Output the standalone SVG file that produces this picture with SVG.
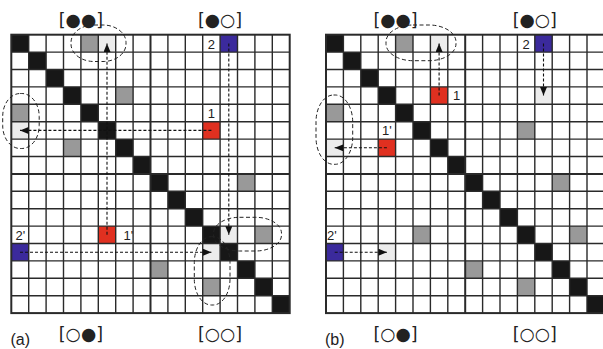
<svg xmlns="http://www.w3.org/2000/svg" xmlns:xlink="http://www.w3.org/1999/xlink" width="603" height="349" viewBox="0 0 603 349">
<style>
.k{fill:#171717}
.g{fill:#999999}
.l{fill:#ececec}
.r{fill:#e03020}
.b{fill:#3b2a9c}
.grid{fill:none;stroke:#2a2a2a;stroke-width:1.4}
.thick{fill:none;stroke:#2a2a2a;stroke-width:2}
.arr{fill:none;stroke:#111;stroke-width:1.1;stroke-dasharray:3 2;marker-end:url(#ah)}
.hl{fill:none;stroke:#222;stroke-width:1;stroke-dasharray:4 2.5}
.lab{font-family:"DejaVu Sans",sans-serif;font-size:17.5px;fill:#222;text-anchor:middle}
.num{font-family:"Liberation Sans",Arial,sans-serif;font-size:13px;fill:#222}
.cap{font-family:"Liberation Sans",Arial,sans-serif;font-size:16px;fill:#222}
</style>
<defs>
<marker id="ah" markerUnits="userSpaceOnUse" markerWidth="9" markerHeight="8" refX="8.5" refY="3.5" orient="auto">
<path d="M0,0 L8.5,3.5 L0,7 z" fill="#111"/>
</marker>
<g id="diag">
<rect class="k" x="0" y="0" width="17.4" height="17.4"/>
<rect class="k" x="17.4" y="17.4" width="17.4" height="17.4"/>
<rect class="k" x="34.8" y="34.8" width="17.4" height="17.4"/>
<rect class="k" x="52.2" y="52.2" width="17.4" height="17.4"/>
<rect class="k" x="69.6" y="69.6" width="17.4" height="17.4"/>
<rect class="k" x="87" y="87" width="17.4" height="17.4"/>
<rect class="k" x="104.4" y="104.4" width="17.4" height="17.4"/>
<rect class="k" x="121.8" y="121.8" width="17.4" height="17.4"/>
<rect class="k" x="139.2" y="139.2" width="17.4" height="17.4"/>
<rect class="k" x="156.6" y="156.6" width="17.4" height="17.4"/>
<rect class="k" x="174" y="174" width="17.4" height="17.4"/>
<rect class="k" x="191.4" y="191.4" width="17.4" height="17.4"/>
<rect class="k" x="208.8" y="208.8" width="17.4" height="17.4"/>
<rect class="k" x="226.2" y="226.2" width="17.4" height="17.4"/>
<rect class="k" x="243.6" y="243.6" width="17.4" height="17.4"/>
<rect class="k" x="261" y="261" width="17.4" height="17.4"/>
</g>
<g id="lines">
<path class="grid" d="M17.4,0V278.4M34.8,0V278.4M52.2,0V278.4M69.6,0V278.4M87,0V278.4M104.4,0V278.4M121.8,0V278.4M156.6,0V278.4M174,0V278.4M191.4,0V278.4M208.8,0V278.4M226.2,0V278.4M243.6,0V278.4M261,0V278.4M0,17.4H278.4M0,34.8H278.4M0,52.2H278.4M0,69.6H278.4M0,87H278.4M0,104.4H278.4M0,121.8H278.4M0,156.6H278.4M0,174H278.4M0,191.4H278.4M0,208.8H278.4M0,226.2H278.4M0,243.6H278.4M0,261H278.4"/>
<path class="thick" d="M139.2,0V278.4M0,139.2H278.4"/>
<rect class="thick" x="0" y="0" width="278.4" height="278.4"/>
</g>
</defs>

<g id="matrix-a" transform="translate(11.3,34.7)">
<use xlink:href="#diag"/>
<g id="a-gray">
<rect class="g" x="69.6" y="0" width="17.4" height="17.4"/>
<rect class="g" x="104.4" y="52.2" width="17.4" height="17.4"/>
<rect class="g" x="0" y="69.6" width="17.4" height="17.4"/>
<rect class="g" x="52.2" y="104.4" width="17.4" height="17.4"/>
<rect class="g" x="226.2" y="139.2" width="17.4" height="17.4"/>
<rect class="g" x="243.6" y="191.4" width="17.4" height="17.4"/>
<rect class="g" x="139.2" y="226.2" width="17.4" height="17.4"/>
<rect class="g" x="191.4" y="243.6" width="17.4" height="17.4"/>
</g>
<g id="a-targets">
<rect class="l" x="87" y="0" width="17.4" height="17.4"/>
<rect class="l" x="0" y="87" width="17.4" height="17.4"/>
<rect class="l" x="208.8" y="191.4" width="17.4" height="17.4"/>
<rect class="l" x="191.4" y="208.8" width="17.4" height="17.4"/>
</g>
<g id="a-node1"><rect class="r" x="191.4" y="87" width="17.4" height="17.4"/></g>
<g id="a-node1p"><rect class="r" x="87" y="191.4" width="17.4" height="17.4"/></g>
<g id="a-node2"><rect class="b" x="208.8" y="0" width="17.4" height="17.4"/></g>
<g id="a-node2p"><rect class="b" x="0" y="208.8" width="17.4" height="17.4"/></g>
<use xlink:href="#lines"/>
<g id="a-connectors">
<line class="arr" x1="200.1" y1="95.7" x2="8.7" y2="95.7"/>
<line class="arr" x1="95.7" y1="200.1" x2="95.7" y2="8.7"/>
<line class="arr" x1="217.5" y1="8.7" x2="217.5" y2="200.1"/>
<line class="arr" x1="8.7" y1="217.5" x2="200.1" y2="217.5"/>
</g>
</g>

<g id="matrix-b" transform="translate(326,34.7)">
<use xlink:href="#diag"/>
<g id="b-gray">
<rect class="g" x="69.6" y="0" width="17.4" height="17.4"/>
<rect class="g" x="0" y="69.6" width="17.4" height="17.4"/>
<rect class="g" x="191.4" y="87" width="17.4" height="17.4"/>
<rect class="g" x="226.2" y="139.2" width="17.4" height="17.4"/>
<rect class="g" x="87" y="191.4" width="17.4" height="17.4"/>
<rect class="g" x="243.6" y="191.4" width="17.4" height="17.4"/>
<rect class="g" x="139.2" y="226.2" width="17.4" height="17.4"/>
<rect class="g" x="191.4" y="243.6" width="17.4" height="17.4"/>
</g>
<g id="b-targets">
<rect class="l" x="104.4" y="0" width="17.4" height="17.4"/>
<rect class="l" x="0" y="104.4" width="17.4" height="17.4"/>
<rect class="l" x="208.8" y="52.2" width="17.4" height="17.4"/>
<rect class="l" x="52.2" y="208.8" width="17.4" height="17.4"/>
</g>
<g id="b-node1"><rect class="r" x="104.4" y="52.2" width="17.4" height="17.4"/></g>
<g id="b-node1p"><rect class="r" x="52.2" y="104.4" width="17.4" height="17.4"/></g>
<g id="b-node2"><rect class="b" x="208.8" y="0" width="17.4" height="17.4"/></g>
<g id="b-node2p"><rect class="b" x="0" y="208.8" width="17.4" height="17.4"/></g>
<use xlink:href="#lines"/>
<g id="b-connectors">
<line class="arr" x1="113.1" y1="60.9" x2="113.1" y2="8.7"/>
<line class="arr" x1="217.5" y1="8.7" x2="217.5" y2="60.9"/>
<line class="arr" x1="60.9" y1="113.1" x2="8.7" y2="113.1"/>
<line class="arr" x1="8.7" y1="217.5" x2="60.9" y2="217.5"/>
</g>
</g>

<g id="highlights">
<rect class="hl" x="71" y="25" width="55" height="36.5" rx="23" ry="17.5"/>
<rect class="hl" x="2.7" y="93.5" width="36.5" height="55" rx="17.5" ry="23"/>
<rect class="hl" x="213.5" y="217.3" width="68" height="33.7" rx="26" ry="16"/>
<rect class="hl" x="194.3" y="236.7" width="35.7" height="68.3" rx="17" ry="26"/>
<rect class="hl" x="386" y="25" width="70" height="35.7" rx="27" ry="17"/>
<rect class="hl" x="316" y="95" width="36.7" height="69.3" rx="17.5" ry="27"/>
</g>

<g id="labels">
<text class="lab" x="80.9" y="26.3">[●●]</text>
<text class="lab" x="220.1" y="26.3">[●○]</text>
<text class="lab" x="80.9" y="339.5">[○●]</text>
<text class="lab" x="220.1" y="339.5">[○○]</text>
<text class="lab" x="395.6" y="26.3">[●●]</text>
<text class="lab" x="534.8" y="26.3">[●○]</text>
<text class="lab" x="395.6" y="339.5">[○●]</text>
<text class="lab" x="534.8" y="339.5">[○○]</text>
<text class="cap" x="10.5" y="345">(a)</text>
<text class="cap" x="325" y="345">(b)</text>
<text class="num" x="211.4" y="48.5" text-anchor="middle">2</text>
<text class="num" x="211.4" y="118" text-anchor="middle">1</text>
<text class="num" x="123.5" y="240">1'</text>
<text class="num" x="15.5" y="240">2'</text>
<text class="num" x="526.1" y="48.5" text-anchor="middle">2</text>
<text class="num" x="456.5" y="100" text-anchor="middle">1</text>
<text class="num" x="382" y="135">1'</text>
<text class="num" x="327" y="240">2'</text>
</g>
</svg>
